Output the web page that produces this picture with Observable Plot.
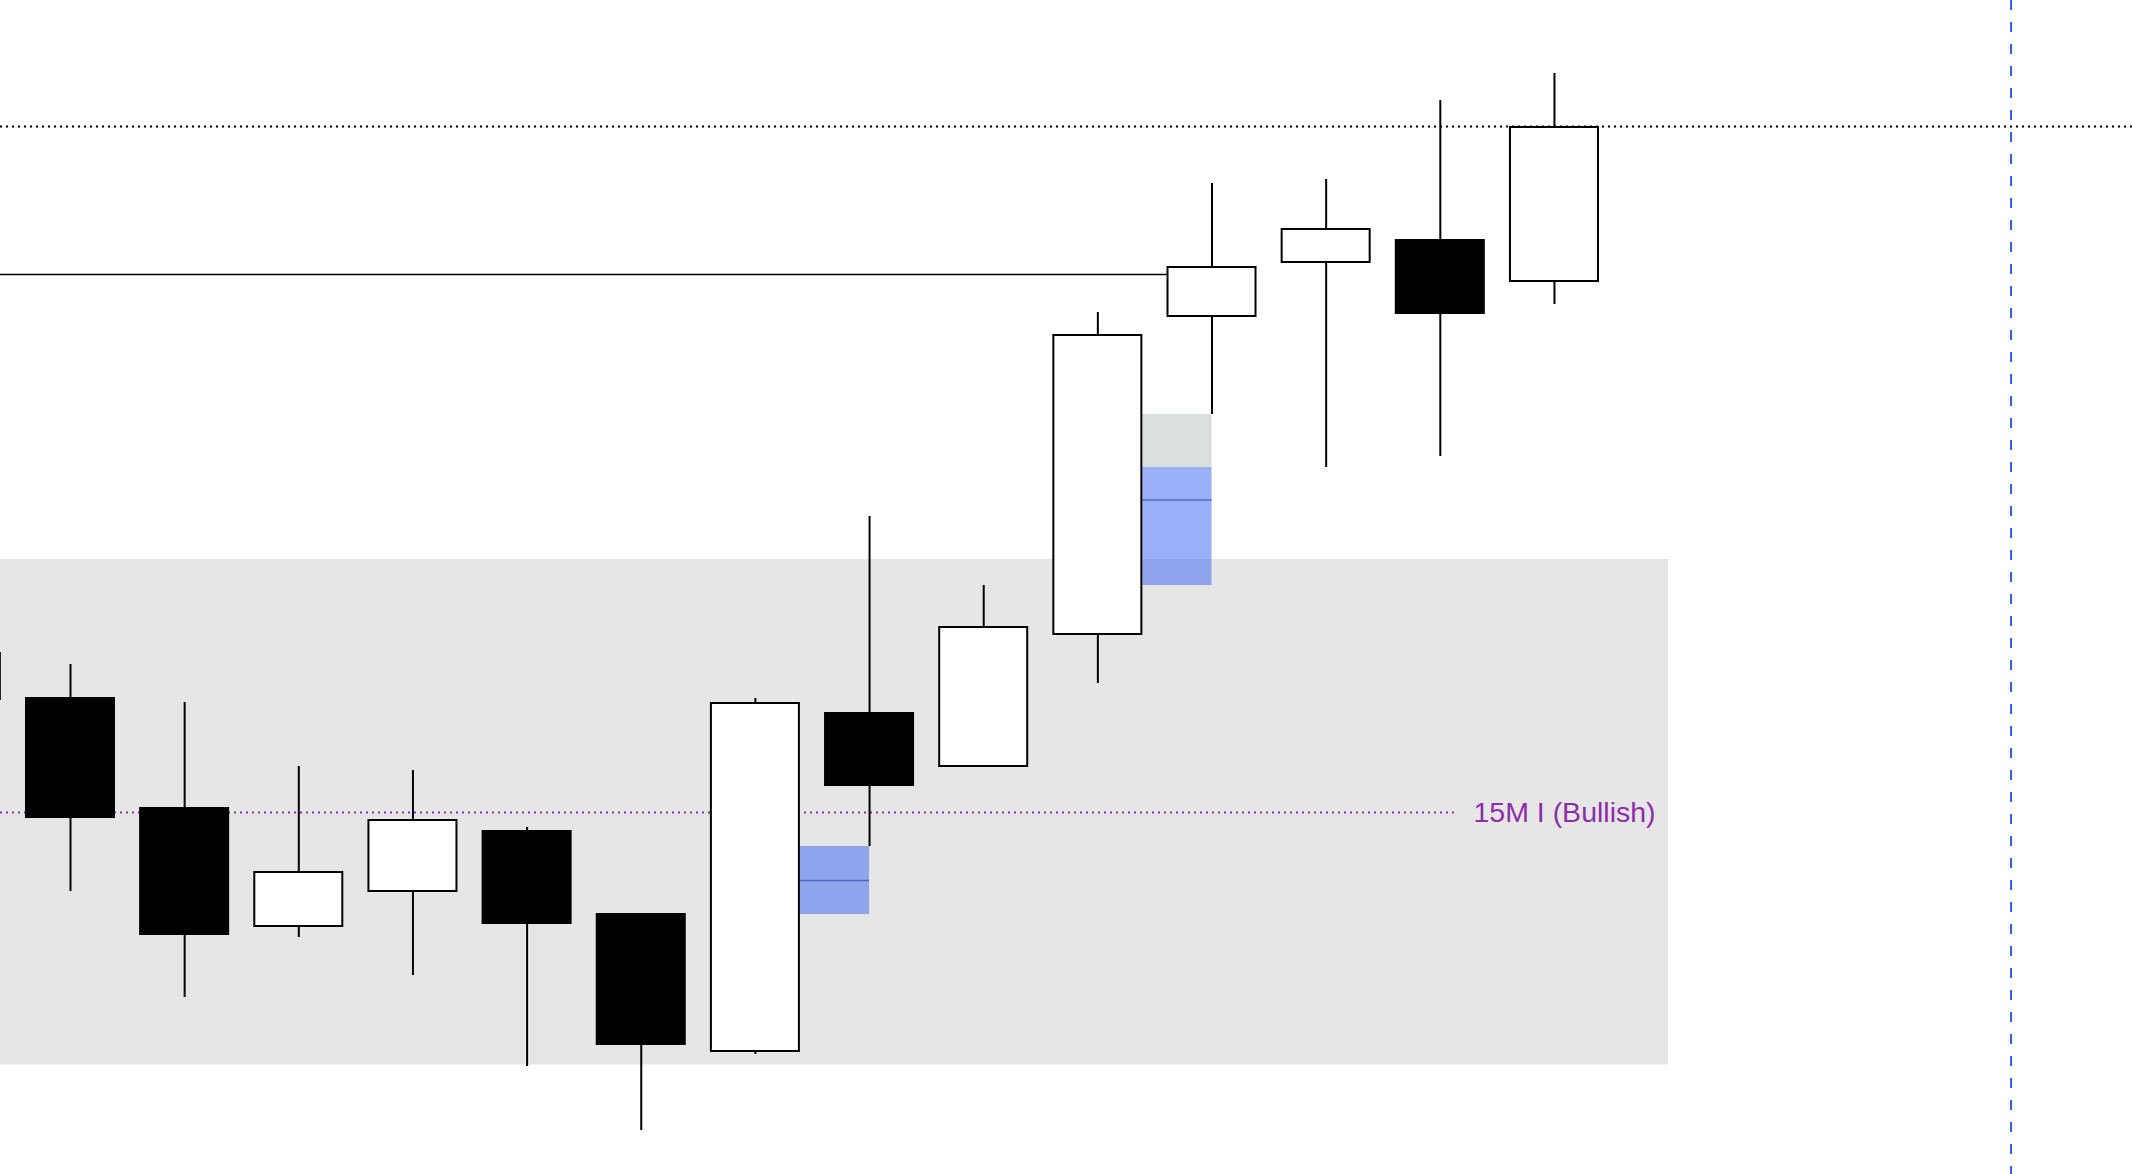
<!DOCTYPE html>
<html>
<head>
<meta charset="utf-8">
<script src="https://cdn.jsdelivr.net/npm/d3@7"></script>
<script src="https://cdn.jsdelivr.net/npm/@observablehq/plot@0.6"></script>
<style>
  html, body { margin: 0; padding: 0; background: #ffffff; overflow: hidden; }
  #chart svg { display: block; }
</style>
</head>
<body>
<div id="chart"></div>
<script>
// ---- Data (price units; no axis shown) ----
const candleIndex = [0, 1, 2, 3, 4, 5, 6, 7, 8, 9, 10, 11, 12, 13, 14];
const openPrice  = [47.5, 47.6, 36.6, 24.8, 28.3, 34.3, 26.0, 12.3, 46.1, 40.8, 54.0, 85.8, 91.2, 93.4, 89.3];
const highPrice  = [53.5, 51.0, 47.2, 40.8, 40.4, 34.7, 26.0, 47.6, 65.8, 58.9, 86.2, 99.1, 99.5, 107.4, 110.1];
const lowPrice   = [46.9, 28.3, 17.7, 23.7, 19.9, 10.8, 4.4, 12.0, 32.8, 40.8, 49.1, 76.0, 70.7, 71.8, 87.0];
const closePrice = [52.1, 35.7, 24.0, 30.2, 35.4, 25.1, 13.0, 47.1, 38.9, 54.7, 83.9, 90.7, 94.5, 86.1, 104.7];

// Fair value gaps (middle candle index, gap bottom, gap top, level filled to)
const fvgCandle = [7, 10];
const fvgBottom = [26.0, 58.9];
const fvgTop    = [32.8, 76.0];
const fvgFill   = [32.8, 70.7];

// Zone (grey box)
const zoneTop = 61.5;
const zoneBottom = 10.95;
const zoneEndIndex = 15;

// Levels
const bullishLevel = 36.2;
const bullishLevelEnd = 13.15;
const bullishLabel = "15M I (Bullish)";
const solidLevel = 90.0;
const solidLevelEndCandle = 11;
const dottedLevel = 104.8;
const sessionLineIndex = 18;

// ---- Build tables ----
const candles = candleIndex.map((i, k) => ({
  i, open: openPrice[k], high: highPrice[k], low: lowPrice[k], close: closePrice[k],
  up: closePrice[k] >= openPrice[k]
}));
const fvgs = fvgCandle.map((c, k) => ({
  c, bottom: fvgBottom[k], top: fvgTop[k], fill: fvgFill[k], mid: (fvgBottom[k] + fvgTop[k]) / 2
}));

// ---- Layout constants ----
const W = 2132, H = 1174;
const xMin = 0.3868, xMax = 19.0638;
const half = 0.3855;      // body half-width (index units)
const halfOuter = 0.394;  // body half-width incl. stroke

const chart = Plot.plot({
  width: W,
  height: H,
  margin: 0,
  x: { type: "linear", domain: [xMin, xMax], axis: null },
  y: { type: "linear", domain: [0, 117.4], axis: null },
  style: { background: "#ffffff", overflow: "hidden" },
  marks: [
    // grey zone
    Plot.rect([{ x1: xMin - 1, x2: zoneEndIndex, y1: zoneBottom, y2: zoneTop }], {
      x1: "x1", x2: "x2", y1: "y1", y2: "y2", fill: "#e6e6e6"
    }),
    // purple dotted level
    Plot.ruleY([bullishLevel], {
      x1: xMin, x2: bullishLevelEnd, stroke: "#8e2caa", strokeWidth: 2, strokeDasharray: "2,4"
    }),
    // solid black level
    Plot.ruleY([solidLevel], {
      x1: xMin, x2: solidLevelEndCandle - halfOuter, stroke: "#000000", strokeWidth: 1.5
    }),
    // FVG filled (grey) part
    Plot.rect(fvgs.filter(d => d.top > d.fill), {
      x1: d => d.c + halfOuter, x2: d => d.c + 1, y1: "fill", y2: "top", fill: "#dadfdc"
    }),
    // FVG open (blue) part
    Plot.rect(fvgs, {
      x1: d => d.c + halfOuter, x2: d => d.c + 1, y1: "bottom", y2: "fill",
      fill: "rgb(70,110,242)", fillOpacity: 0.55
    }),
    // FVG midlines
    Plot.ruleY(fvgs, {
      y: "mid", x1: d => d.c + halfOuter, x2: d => d.c + 1, stroke: "#5468c0", strokeWidth: 1.6
    }),
    // wicks
    Plot.ruleX(candles, { x: "i", y1: "low", y2: "high", stroke: "#000000", strokeWidth: 2 }),
    // bodies
    Plot.rect(candles, {
      x1: d => d.i - half, x2: d => d.i + half, y1: "open", y2: "close",
      fill: d => d.up ? "#ffffff" : "#000000", stroke: "#000000", strokeWidth: 2
    }),
    // dotted black level
    Plot.ruleY([dottedLevel], { stroke: "#000000", strokeWidth: 2, strokeDasharray: "2,4" }),
    // session vertical
    Plot.ruleX([sessionLineIndex], { stroke: "#3158f5", strokeWidth: 2, strokeDasharray: "10,12" }),
    // label
    Plot.text([bullishLabel], {
      x: bullishLevelEnd, y: bullishLevel, text: d => d, dx: 16,
      textAnchor: "start", lineAnchor: "middle",
      fill: "#8e2caa", fontSize: 28.5, fontFamily: "'Liberation Sans', Arial, sans-serif"
    })
  ]
});
document.getElementById("chart").appendChild(chart);
</script>
</body>
</html>
